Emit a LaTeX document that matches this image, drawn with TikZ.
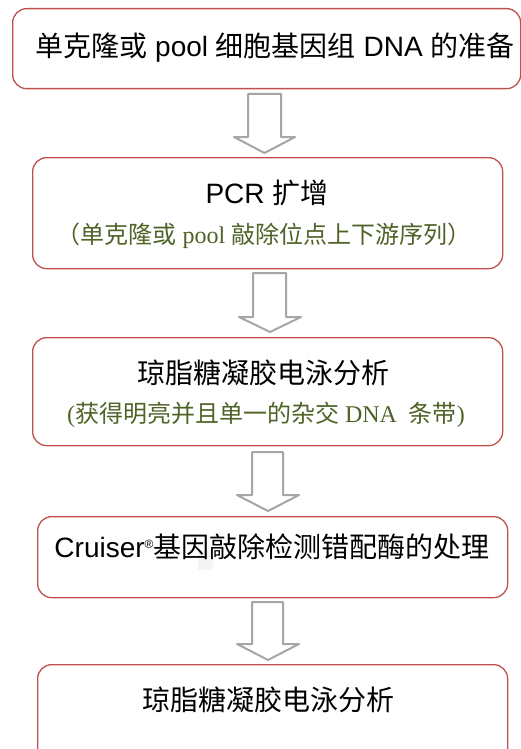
\documentclass[tikz,border=0pt]{standalone}
\usepackage{fontspec}
\setmainfont{Liberation Serif}
\setsansfont{Liberation Sans}
\newfontfamily\cjk{Noto Sans CJK SC}
\definecolor{boxred}{HTML}{C0504D}
\definecolor{olivetxt}{HTML}{4F6228}
\definecolor{arrowgray}{HTML}{A6A6A6}
\newcommand\titlesz{\fontsize{28}{32}\selectfont}
\newcommand\subsz{\fontsize{24}{28}\selectfont}
\begin{document}
\begin{tikzpicture}[x=1pt,y=-1pt,
  box/.style={draw=boxred, line width=1.3pt, rounded corners=14pt, inner sep=0pt, anchor=north west},
  ttl/.style={inner sep=0pt, font=\sffamily\titlesz, text=black},
  sub/.style={inner sep=0pt, font=\rmfamily\subsz, text=olivetxt},
  barrow/.style={draw=arrowgray, line width=2pt, fill=white, line join=round}]
\useasboundingbox (0,0) rectangle (521,749);
\fill[white] (0,0) rectangle (521,749);
% boxes
\node[box, minimum width=508pt, minimum height=80pt] (b1) at (12,8) {};
\node[box, minimum width=470pt, minimum height=111pt] (b2) at (32,157) {};
\node[box, minimum width=470pt, minimum height=108pt] (b3) at (32,337) {};
\node[box, minimum width=470pt, minimum height=81pt] (b4) at (37,516) {};
\node[box, minimum width=470pt, minimum height=110pt] (b5) at (37,664) {};
% faint artifact
\fill[black!4] (198,550) rectangle (213,570);
% texts
\node[ttl] (t1) at (275,48) {{\cjk 单克隆或} pool {\cjk 细胞基因组} DNA {\cjk 的准备}};
\node[ttl] (t2) at (267,193) {PCR {\cjk 扩增}};
\node[sub] (s2) at (264,236) {{\cjk （单克隆或} pool {\cjk 敲除位点上下游序列）}};
\node[ttl] (t3) at (263,373) {\cjk 琼脂糖凝胶电泳分析};
\node[sub] (s3) at (266,415) {({\cjk 获得明亮并且单一的杂交} DNA\ \ {\cjk 条带})};
\node[ttl] (t4) at (272,547) {Cruiser{\fontsize{12}{12}\selectfont\raisebox{9pt}{®}}{\cjk 基因敲除检测错配酶的处理}};
\node[ttl] (t5) at (268,700) {\cjk 琼脂糖凝胶电泳分析};
% block arrows
\draw[barrow] (248,94) -- (281,94) -- (281,137) -- (295,137) -- (264.5,153) -- (234,137) -- (248,137) -- cycle;
\draw[barrow] (253,273) -- (286,273) -- (286,317) -- (301,317) -- (270,332) -- (239,317) -- (253,317) -- cycle;
\draw[barrow] (252,452) -- (283,452) -- (283,495) -- (299,495) -- (268,511) -- (237,495) -- (252,495) -- cycle;
\draw[barrow] (252,602) -- (283,602) -- (283,644) -- (299,644) -- (268,660) -- (237,644) -- (252,644) -- cycle;
\end{tikzpicture}
\end{document}
